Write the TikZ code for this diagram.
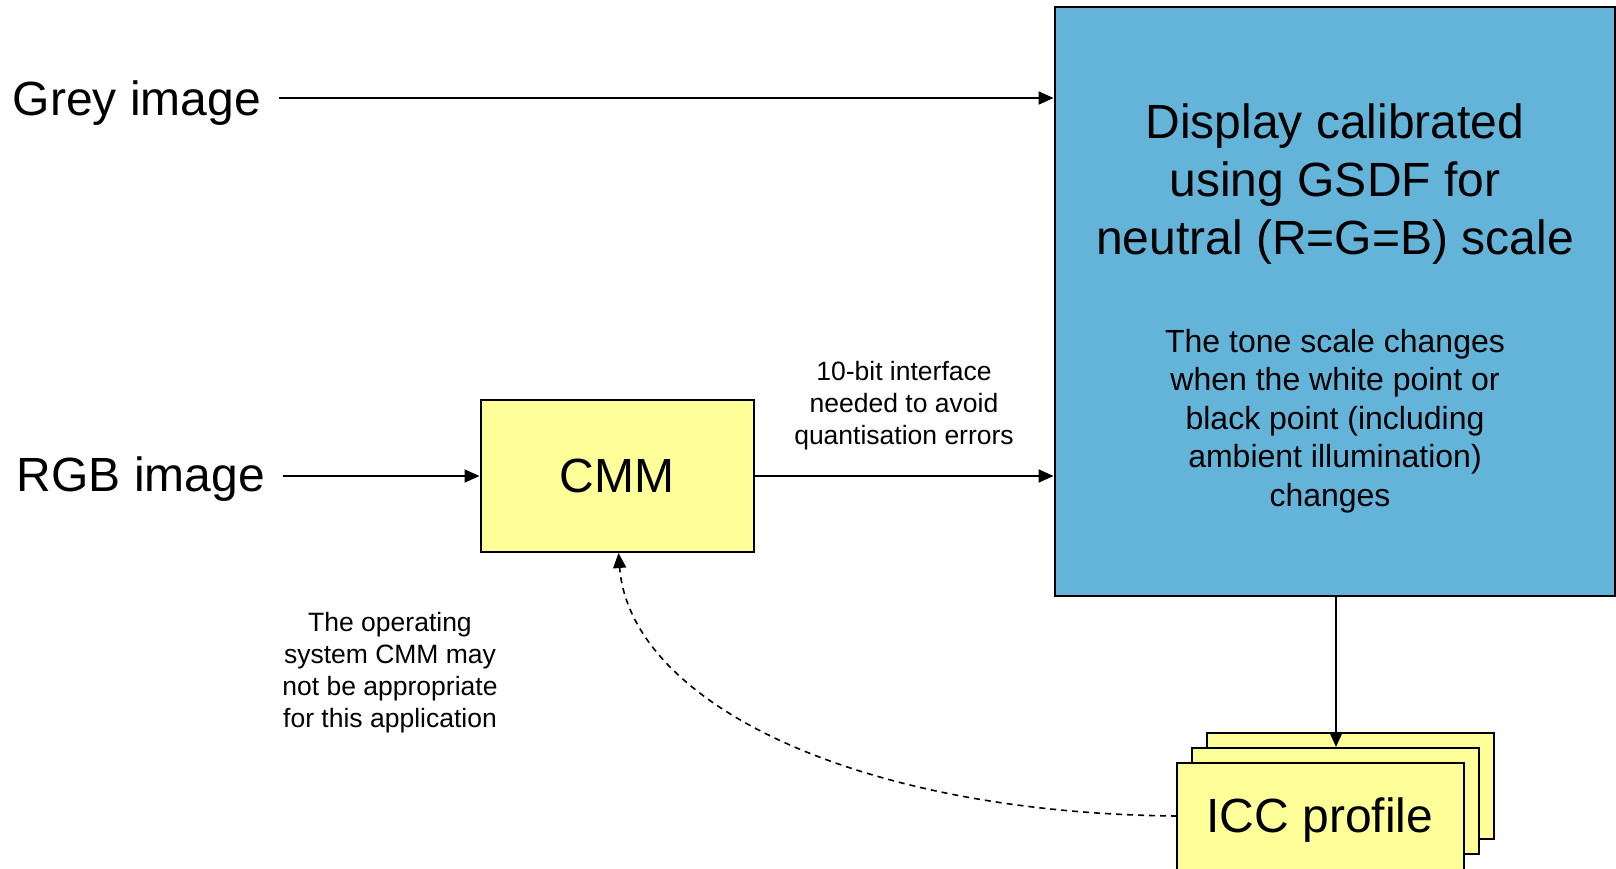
\documentclass[tikz,border=0pt]{standalone}
\usepackage{fontspec}
\setmainfont{Liberation Sans}
\usetikzlibrary{arrows.meta}
\definecolor{dispblue}{RGB}{99,180,216}
\definecolor{cmmyellow}{RGB}{255,255,153}
\tikzset{
  boxline/.style={draw=black, line width=2pt},
  yellowbox/.style={boxline, fill=cmmyellow, inner sep=0pt},
  bigtext/.style={font=\fontsize{48}{57.6}\selectfont, align=center, inner sep=0pt},
  midtext/.style={font=\fontsize{32}{38.4}\selectfont, align=center, inner sep=0pt},
  smalltext/.style={font=\fontsize{26.5}{32}\selectfont, align=center, inner sep=0pt},
  flow/.style={line width=2pt, -{Triangle[length=15pt,width=13pt]}},
  dashflow/.style={line width=1.6pt, dash pattern=on 6pt off 5pt, -{Triangle[length=15pt,width=13pt]}}
}
\begin{document}
\begin{tikzpicture}[x=1pt,y=-1pt]
\useasboundingbox (0,0) rectangle (1616,868);
\fill[white] (0,0) rectangle (1616,868);

% blue display box
\node[boxline, fill=dispblue, minimum width=560pt, minimum height=589pt, inner sep=0pt] (disp) at (1334.5,301.5) {};
\node[bigtext] (title) at (1335,184) {Display calibrated\\using GSDF for\\neutral (R=G=B) scale};
\node[midtext] (tone) at (1335,421) {The tone scale changes\\when the white point or\\black point (including\\ambient illumination)\\changes\hspace*{10pt}};

% inputs
\node[bigtext] (grey) at (137,103) {Grey image};
\node[bigtext] (rgb) at (141,479) {RGB image};
\coordinate (greystart) at (279,98);
\coordinate (rgbstart) at (283,476);
\coordinate (iccend) at (1177,816);

% CMM
\node[yellowbox, minimum width=273pt, minimum height=152pt] (cmm) at (617,476) {};
\node[bigtext] (cmmtext) at (cmm.center) {CMM};

% ICC profile stack
\node[yellowbox, minimum width=287pt, minimum height=106pt] (icc1) at (1350.5,786) {};
\node[yellowbox, minimum width=287pt, minimum height=106pt] (icc2) at (1335.5,801) {};
\node[yellowbox, minimum width=287pt, minimum height=142pt] (icc3) at (1320.5,834) {};
\node[bigtext] (icctext) at (1320,820) {ICC profile};

% labels
\node[smalltext] (bitlabel) at (904,406) {10-bit interface\\needed to avoid\\quantisation errors};
\node[smalltext] (oslabel) at (390,673) {The operating\\system CMM may\\not be appropriate\\for this application};

% connectors
\draw[flow] (greystart) -- (greystart -| disp.west);
\draw[flow] (rgbstart) -- (rgbstart -| cmm.west);
\draw[flow] (cmm.east |- rgbstart) -- (rgbstart -| disp.west);
\draw[flow] ([xshift=1.5pt]disp.south) -- ([xshift=1.5pt]disp.south |- icc2.north);
\draw[dashflow] (iccend) .. controls (850,813) and (630,700) .. ([xshift=1.5pt]cmm.south);
\end{tikzpicture}
\end{document}
